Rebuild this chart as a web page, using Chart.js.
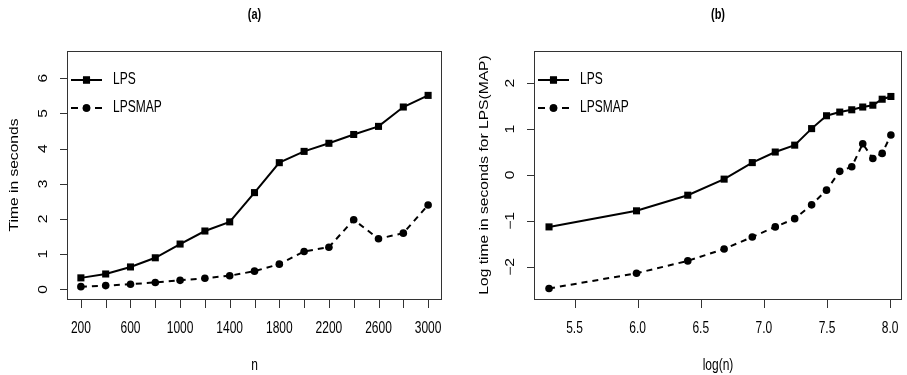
<!DOCTYPE html>
<html>
<head>
<meta charset="utf-8">
<script src="https://cdn.jsdelivr.net/npm/chart.js@4"></script>
<style>
  html, body { margin: 0; padding: 0; background: #fff; overflow: hidden; }
  .panel { position: absolute; top: 0; }
</style>
</head>
<body>
<div class="panel" style="left:0"><canvas id="timeChart" width="453" height="375"></canvas></div>
<div class="panel" style="left:453px"><canvas id="logTimeChart" width="454" height="375"></canvas></div>
<script>
// sample sizes and run times (seconds)
const nValues = [200, 400, 600, 800, 1000, 1200, 1400, 1600, 1800, 2000, 2200, 2400, 2600, 2800, 3000];
const lpsTime = [0.33, 0.44, 0.64, 0.90, 1.29, 1.66, 1.92, 2.75, 3.60, 3.92, 4.15, 4.40, 4.63, 5.18, 5.51];
const lpsmapTime = [0.08, 0.11, 0.15, 0.20, 0.26, 0.32, 0.39, 0.52, 0.72, 1.08, 1.20, 1.98, 1.44, 1.60, 2.40];

// same runs on log scale
const logN = [5.298, 5.991, 6.397, 6.685, 6.908, 7.090, 7.244, 7.378, 7.496, 7.601, 7.696, 7.783, 7.863, 7.937, 8.006];
const lpsLogTime = [-1.13, -0.78, -0.44, -0.09, 0.27, 0.50, 0.65, 1.01, 1.29, 1.37, 1.42, 1.48, 1.52, 1.65, 1.71];
const lpsmapLogTime = [-2.47, -2.14, -1.87, -1.61, -1.35, -1.13, -0.95, -0.65, -0.33, 0.08, 0.18, 0.68, 0.36, 0.47, 0.87];

// axis ticks
const nTickMarks = nValues;
const nTickLabels = [200, 600, 1000, 1400, 1800, 2200, 2600, 3000];
const timeTicks = [0, 1, 2, 3, 4, 5, 6];
const logNTicks = [5.5, 6.0, 6.5, 7.0, 7.5, 8.0];
const logTimeTicks = [-2, -1, 0, 1, 2];

const seriesNames = ['LPS', 'LPSMAP'];

const FONT = '"Liberation Sans", Arial, Helvetica, sans-serif';
const STRETCH = 1.3;

function toPoints(xs, ys) {
    return xs.map((x, i) => ({ x: x, y: ys[i] }));
}

function fmtTick(v, digits) {
    const s = v.toFixed(digits);
    return v < 0 ? '\u2212' + s.slice(1) : s;
}

// draws text slightly taller than wide, like the old plotting device did
function drawText(ctx, text, x, y, opts) {
    ctx.save();
    ctx.font = opts.font || ('12px ' + FONT);
    ctx.fillStyle = '#000';
    ctx.textAlign = opts.align || 'center';
    ctx.textBaseline = opts.baseline || 'middle';
    ctx.translate(x, y);
    if (opts.rotate) {
        ctx.rotate(-Math.PI / 2);
        ctx.scale(STRETCH, 1);
    } else {
        ctx.scale(1, STRETCH);
    }
    ctx.fillText(text, 0, 0);
    ctx.restore();
}

// box, ticks, axis titles and legend in base-graphics style
const frame = {
    id: 'frame',
    afterDraw(chart, args, o) {
        const ctx = chart.ctx;
        const a = chart.chartArea;
        const xs = chart.scales.x;
        const ys = chart.scales.y;

        ctx.save();
        ctx.strokeStyle = '#333';
        ctx.lineWidth = 1;
        ctx.strokeRect(Math.round(a.left) + 0.5, Math.round(a.top) + 0.5,
            Math.round(a.right - a.left) - 1, Math.round(a.bottom - a.top));

        // x axis
        ctx.beginPath();
        o.xMarks.forEach(v => {
            const px = Math.round(xs.getPixelForValue(v)) + 0.5;
            ctx.moveTo(px, a.bottom);
            ctx.lineTo(px, a.bottom + 9);
        });
        // y axis
        o.yMarks.forEach(v => {
            const py = Math.round(ys.getPixelForValue(v)) + 0.5;
            ctx.moveTo(a.left, py);
            ctx.lineTo(a.left - 7, py);
        });
        ctx.stroke();
        ctx.restore();

        o.xLabels.forEach(v => drawText(ctx, fmtTick(v, o.xDigits), xs.getPixelForValue(v), a.bottom + 30, {}));
        o.yMarks.forEach(v => drawText(ctx, fmtTick(v, 0), a.left - 23, ys.getPixelForValue(v), { rotate: true }));

        const cx = (a.left + a.right) / 2;
        drawText(ctx, o.title, cx, 15, { font: 'bold 11px ' + FONT });
        drawText(ctx, o.xTitle, cx, 370, { baseline: 'alphabetic' });
        drawText(ctx, o.yTitle, o.yTitleX, (a.top + a.bottom) / 2, { rotate: true });

        // legend: line sample with marker, then name
        const x0 = a.left + 4, x1 = a.left + 35, xm = (x0 + x1) / 2;
        chart.data.datasets.forEach((ds, i) => {
            const y = a.top + 29 + i * 28;
            ctx.save();
            ctx.strokeStyle = '#000';
            ctx.lineWidth = 2;
            ctx.beginPath();
            if (ds.borderDash) {
                // one dash either side of the marker
                ctx.moveTo(x0, y);
                ctx.lineTo(x0 + 7, y);
                ctx.moveTo(x1 - 7, y);
                ctx.lineTo(x1, y);
            } else {
                ctx.moveTo(x0, y);
                ctx.lineTo(x1, y);
            }
            ctx.stroke();
            ctx.restore();
            ctx.fillStyle = '#000';
            Chart.helpers.drawPoint(ctx, {
                pointStyle: ds.pointStyle, radius: ds.pointRadius, rotation: 0, borderWidth: 0
            }, xm, y);
            ctx.fill();
            drawText(ctx, ds.label, a.left + 46, y, { align: 'left' });
        });
    }
};

function makeDatasets(xs, lps, lpsmap) {
    return [{
        label: seriesNames[0],
        data: toPoints(xs, lps),
        borderColor: '#000',
        backgroundColor: '#000',
        borderWidth: 2,
        pointStyle: 'rect',
        pointRadius: 5,
        pointBorderWidth: 0
    }, {
        label: seriesNames[1],
        data: toPoints(xs, lpsmap),
        borderColor: '#000',
        backgroundColor: '#000',
        borderWidth: 2,
        borderDash: [6, 5],
        pointStyle: 'circle',
        pointRadius: 3.8,
        pointBorderWidth: 0
    }];
}

function makeOptions(pad, xr, yr, frameOpts) {
    return {
        responsive: false,
        animation: false,
        layout: { padding: pad },
        scales: {
            x: { type: 'linear', min: xr[0], max: xr[1], display: false },
            y: { type: 'linear', min: yr[0], max: yr[1], display: false }
        },
        plugins: {
            legend: { display: false },
            tooltip: { enabled: false },
            frame: frameOpts
        }
    };
}

new Chart(document.getElementById('timeChart').getContext('2d'), {
    type: 'line',
    data: { datasets: makeDatasets(nValues, lpsTime, lpsmapTime) },
    options: makeOptions(
        { left: 67, right: 11, top: 51, bottom: 76 },
        [88, 3112], [-0.27, 6.77],
        {
            xMarks: nTickMarks, xLabels: nTickLabels, xDigits: 0, yMarks: timeTicks,
            title: '(a)', xTitle: 'n', yTitle: 'Time in seconds', yTitleX: 15
        }
    ),
    plugins: [frame]
});

new Chart(document.getElementById('logTimeChart').getContext('2d'), {
    type: 'line',
    data: { datasets: makeDatasets(logN, lpsLogTime, lpsmapLogTime) },
    options: makeOptions(
        { left: 81, right: 1, top: 51, bottom: 76 },
        [5.179, 8.094], [-2.7, 2.7],
        {
            xMarks: logNTicks, xLabels: logNTicks, xDigits: 1, yMarks: logTimeTicks,
            title: '(b)', xTitle: 'log(n)', yTitle: 'Log time in seconds for LPS(MAP)', yTitleX: 32
        }
    ),
    plugins: [frame]
});
</script>
</body>
</html>
